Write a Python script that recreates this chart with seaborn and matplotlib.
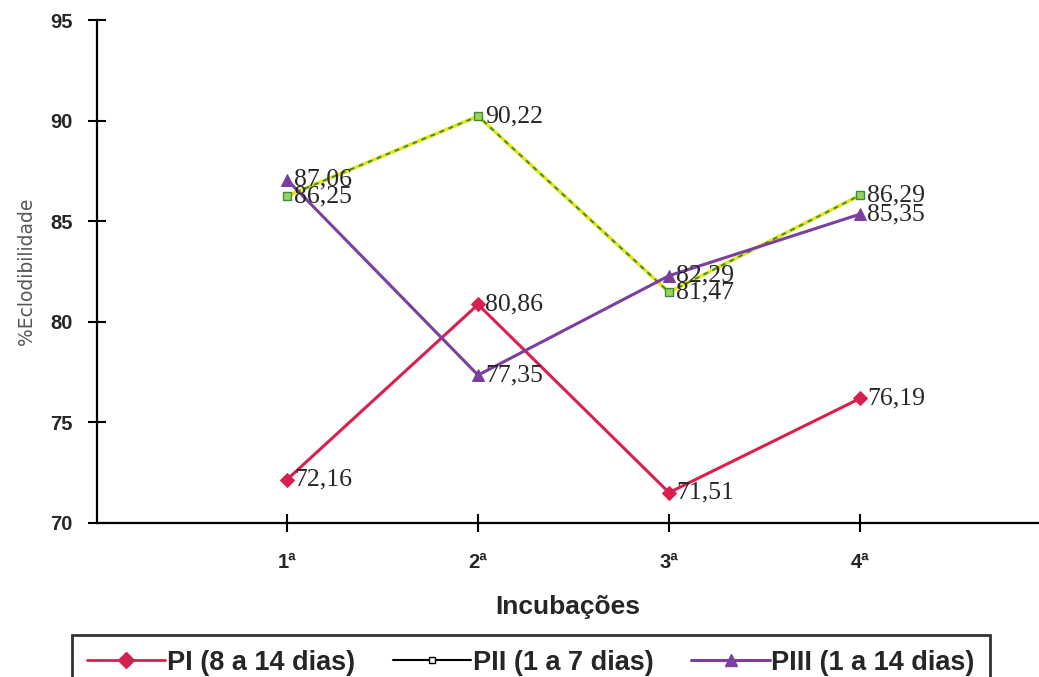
import matplotlib
matplotlib.use("Agg")
import matplotlib.pyplot as plt
from matplotlib.lines import Line2D
import seaborn as sns
import pandas as pd

# data
incubacoes = ["1ª", "2ª", "3ª", "4ª"]
pos = [1, 2, 3, 4]
pi_vals = [72.16, 80.86, 71.51, 76.19]
pii_vals = [86.25, 90.22, 81.47, 86.29]
piii_vals = [87.06, 77.35, 82.29, 85.35]
series_names = ["PI (8 a 14 dias)", "PII (1 a 7 dias)", "PIII (1 a 14 dias)"]

df = pd.DataFrame({"pos": pos, "PI": pi_vals, "PII": pii_vals, "PIII": piii_vals})

sns.set_style("white")
plt.rcParams["font.family"] = ["Liberation Sans", "DejaVu Sans"]

fig = plt.figure(figsize=(10.39, 6.77), dpi=100)
ax = fig.add_axes([97 / 1039, 1 - 523 / 677, 1 - 97 / 1039, (523 - 20) / 677])

red = "#d8204f"
purple = "#7b3f9e"
yellow = "#e6e619"
green = "#3c8c3c"

# PII: yellow line with green dashes on top
sns.lineplot(data=df, x="pos", y="PII", ax=ax, color=yellow, linewidth=2.6, zorder=2)
ax.plot(df["pos"], df["PII"], color=green, linewidth=1.4, dashes=(2.5, 2.5),
        marker="s", markersize=6, markerfacecolor="#9bd35a",
        markeredgecolor=green, zorder=3)
sns.lineplot(data=df, x="pos", y="PI", ax=ax, color=red, linewidth=2.2,
             marker="D", markersize=7, markeredgecolor=red, zorder=4)
sns.lineplot(data=df, x="pos", y="PIII", ax=ax, color=purple, linewidth=2.2,
             marker="^", markersize=9, markeredgecolor=purple, zorder=5)

# value labels
for vals in [pi_vals, pii_vals, piii_vals]:
    for x, v in zip(pos, vals):
        ax.annotate(f"{v:.2f}".replace(".", ","), (x, v), xytext=(5, 0),
                    textcoords="offset points", va="center", ha="left",
                    zorder=6, fontsize=18.5,
                    family=["Liberation Serif", "DejaVu Serif"])

ax.set_xlim(0.005, 4.937)
ax.set_ylim(70, 95)
ax.set_xticks(pos)
ax.set_xticklabels(incubacoes, fontweight="bold", fontsize=14.5)
ax.set_yticks([70, 75, 80, 85, 90, 95])
ax.set_yticklabels(["70", "75", "80", "85", "90", "95"], fontweight="bold", fontsize=14.5)
ax.tick_params(axis="both", direction="inout", length=13, width=1.5, color="black",
               bottom=True, left=True)
ax.tick_params(axis="x", pad=15)
ax.tick_params(axis="y", pad=11)

for s in ["top", "right"]:
    ax.spines[s].set_visible(False)
for s in ["left", "bottom"]:
    ax.spines[s].set_color("black")
    ax.spines[s].set_linewidth(1.6)

ax.set_xlabel("Incubações", fontweight="bold", fontsize=19, labelpad=17)
ax.set_ylabel("%Eclodibilidade", fontsize=13.5, color="#555555",
              family=["Liberation Sans Narrow", "DejaVu Sans"], labelpad=10)

handles = [
    Line2D([], [], color=red, linewidth=2, marker="D", markersize=8),
    Line2D([], [], color="black", linewidth=1.5, marker="s", markersize=4,
           markerfacecolor="white", markeredgecolor="black"),
    Line2D([], [], color=purple, linewidth=2.2, marker="^", markersize=9),
]
leg = fig.legend(handles, series_names, loc="upper left", ncol=3,
                 bbox_to_anchor=(72 / 1039, 1 - 635 / 677), frameon=True,
                 fancybox=False, prop={"weight": "bold", "size": 19.5},
                 handlelength=2.9, handletextpad=0.05, columnspacing=1.4,
                 borderpad=0.55, borderaxespad=0)
leg.get_frame().set_edgecolor("black")
leg.get_frame().set_linewidth(2)

fig.savefig("out.png", dpi=100)
